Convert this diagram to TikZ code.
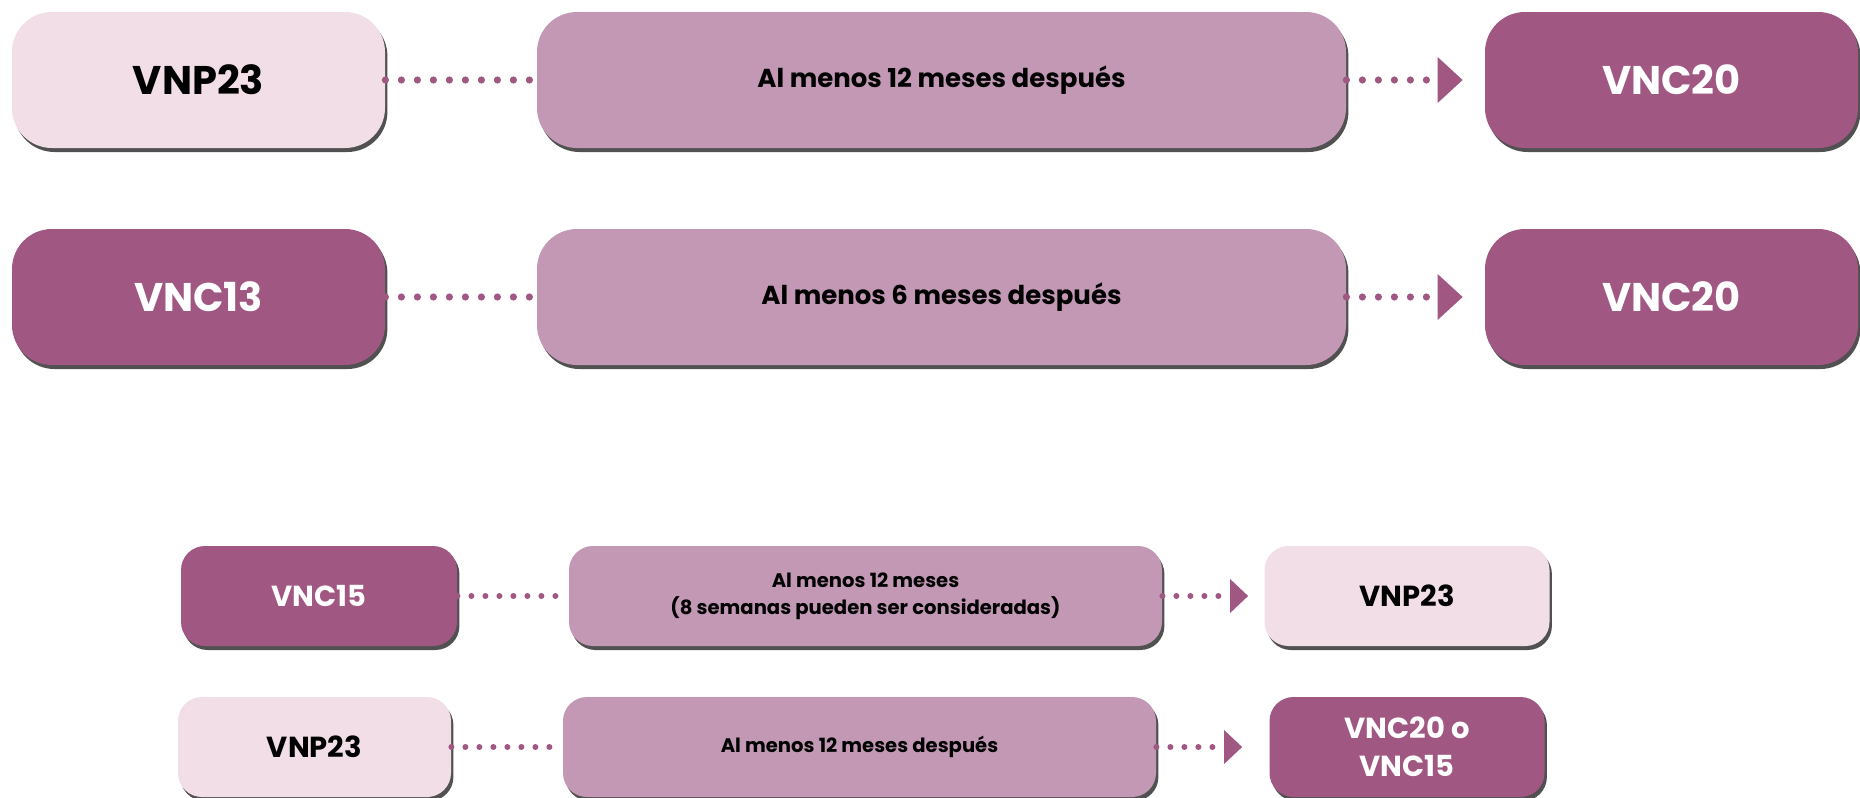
\documentclass[tikz,border=0pt]{standalone}
\usepackage{fontspec}
\setmainfont{Poppins}
\usetikzlibrary{arrows.meta,positioning,shadows}
\definecolor{palepink}{HTML}{F2DEE7}
\definecolor{mauve}{HTML}{C298B5}
\definecolor{plum}{HTML}{A05782}
\tikzset{
    box/.style={align=center,inner sep=2pt,
      drop shadow={shadow xshift=1.2pt,shadow yshift=-2pt,fill=black!80,opacity=0.85}},
    lightbox/.style={box,fill=palepink,text=black},
    darkbox/.style={box,fill=plum,text=white},
    midbox/.style={box,fill=mauve,text=black},
    bigbox/.style={rounded corners=20pt,minimum width=186.5pt,minimum height=68pt,
      font=\bfseries\fontsize{20}{24}\selectfont},
    bignote/.style={rounded corners=20pt,minimum width=404.5pt,minimum height=68pt,
      font=\bfseries\fontsize{13}{16}\selectfont},
    smallbox/.style={rounded corners=12pt,minimum height=50pt,
      font=\bfseries\fontsize{14.5}{19}\selectfont},
    smallnote/.style={rounded corners=12pt,minimum width=296.5pt,minimum height=50pt,
      font=\bfseries\fontsize{9.8}{13.5}\selectfont},
    dotline/.style={draw=plum,line width=3.6pt,line cap=round,dash pattern=on 0pt off 8pt},
    dotarrow/.style={dotline,-{Triangle[length=12.5pt,width=23pt,line width=0pt]},shorten >=11pt},
    smalldots/.style={draw=plum,line width=3pt,line cap=round,dash pattern=on 0pt off 7pt},
    smallarrow/.style={smalldots,-{Triangle[length=9pt,width=17pt,line width=0pt]},shorten >=8pt}
}
\begin{document}
\begin{tikzpicture}[x=0.5pt,y=-0.5pt]
  \useasboundingbox (0,0) rectangle (1860,798);
  % upper pair
  \node[lightbox,bigbox] (s1) at (198.5,80) {VNP23};
  \node[midbox,bignote] (w1) at (941.5,80) {Al menos 12 meses después};
  \node[darkbox,bigbox] (t1) at (1671.5,80) {VNC20};
  \draw[dotline] (s1.east) -- (w1.west);
  \draw[dotarrow] (w1.east) -- (t1.west);

  \node[darkbox,bigbox] (s2) at (198.5,297) {VNC13};
  \node[midbox,bignote] (w2) at (941.5,297) {Al menos 6 meses después};
  \node[darkbox,bigbox] (t2) at (1671.5,297) {VNC20};
  \draw[dotline] (s2.east) -- (w2.west);
  \draw[dotarrow] (w2.east) -- (t2.west);

  % lower pair
  \node[darkbox,smallbox,minimum width=138pt] (s3) at (319,596) {VNC15};
  \node[midbox,smallnote] (w3) at (865.5,596) {Al menos 12 meses\\(8 semanas pueden ser consideradas)};
  \node[lightbox,smallbox,minimum width=142.5pt] (t3) at (1407,596) {VNP23};
  \draw[smalldots] (s3.east) -- (w3.west);
  \draw[smallarrow] (w3.east) -- (t3.west);

  \node[lightbox,smallbox,minimum width=136.5pt] (s4) at (314.5,747) {VNP23};
  \node[midbox,smallnote] (w4) at (859.5,747) {Al menos 12 meses después};
  \node[darkbox,smallbox,minimum width=137.5pt] (t4) at (1407,747) {VNC20 o\\VNC15};
  \draw[smalldots] (s4.east) -- (w4.west);
  \draw[smallarrow,shorten >=13.5pt] (w4.east) -- (t4.west);
\end{tikzpicture}
\end{document}
